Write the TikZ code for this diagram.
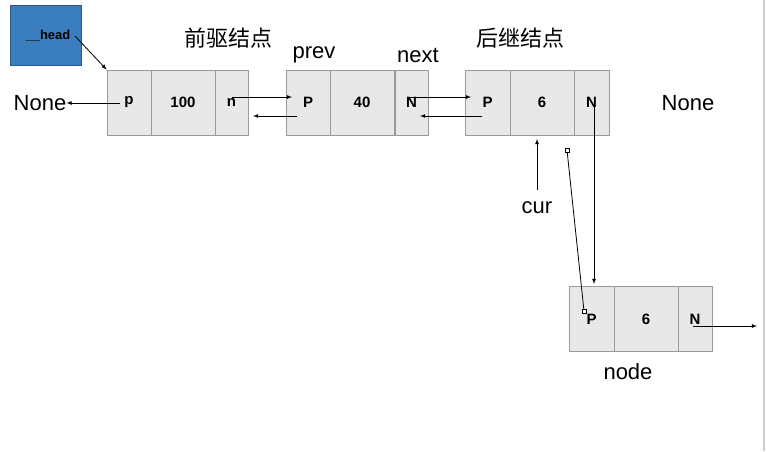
\documentclass[tikz,border=0pt]{standalone}
\usepackage{fontspec}
\setmainfont{Liberation Sans}
\newfontfamily\cjk{Noto Sans CJK SC}
\definecolor{hblue}{HTML}{3A7EC0}
\begin{document}
\begin{tikzpicture}[x=1pt,y=-1pt,
  cell/.style={draw=gray!80,fill=gray!18,line width=0.8pt,minimum height=65pt,inner sep=0pt,font=\bfseries\fontsize{15}{15}\selectfont},
  lbl/.style={font=\fontsize{22}{22}\selectfont,inner sep=0pt},
  ar/.style={-latex,line width=0.8pt}]
\useasboundingbox (0,0) rectangle (766,451);
\fill[white] (0,0) rectangle (766,451);
\draw[gray!40,line width=2pt] (764,0) -- (764,451);
\node[fill=hblue,draw=hblue!70!black,minimum width=71pt,minimum height=60pt,anchor=north west,inner sep=0pt] (hb) at (10,5) {};
\node[font=\bfseries\fontsize{13}{13}\selectfont,inner sep=0pt] (head) at (48,36) {\_\_head};
% node 1
\node[cell,minimum width=44pt] (a1) at (129,102.5) {p};
\node[cell,minimum width=64pt] (a2) at (183,102.5) {100};
\node[cell,minimum width=33pt] (a3) at (231.5,102.5) {n};
% node 2
\node[cell,minimum width=44pt] (b1) at (308,102.5) {P};
\node[cell,minimum width=64pt] (b2) at (362,102.5) {40};
\node[cell,minimum width=33pt] (b3) at (411.5,102.5) {N};
% node 3
\node[cell,minimum width=45pt] (c1) at (487.5,102.5) {P};
\node[cell,minimum width=64pt] (c2) at (542,102.5) {6};
\node[cell,minimum width=35pt] (c3) at (591.5,102.5) {N};
% node 4
\node[cell,minimum width=45pt] (d1) at (591.5,319) {P};
\node[cell,minimum width=64pt] (d2) at (646,319) {6};
\node[cell,minimum width=34pt] (d3) at (695,319) {N};
% labels
\node[lbl,font=\cjk\fontsize{22}{22}\selectfont] (q) at (228,38) {前驱结点};
\node[lbl,font=\cjk\fontsize{22}{22}\selectfont] (h) at (520,38) {后继结点};
\node[lbl] (prev) at (314,55) {prev};
\node[lbl] (next) at (418,55) {next};
\node[lbl] (nl) at (40,103) {None};
\node[lbl] (nr) at (688,103) {None};
\node[lbl] (cur) at (537,208) {cur};
\node[lbl] (nd) at (628,372) {node};
\coordinate (hs) at (75,36);
\coordinate (ps) at (584,311);
\coordinate (pe) at (567,150);
\coordinate (ne) at (757,326);
\coordinate (s0) at (120,103);
\coordinate (s1) at (232,97); \coordinate (e1) at (292,97);
\coordinate (s2) at (297,116); \coordinate (e2) at (253,116);
\coordinate (s3) at (410,97); \coordinate (e3) at (471,97);
\coordinate (s4) at (482,116); \coordinate (e4) at (420,116);
\coordinate (s5) at (594,104); \coordinate (e5) at (594,284);
\coordinate (s6) at (693,326);
\coordinate (cs) at (537,190); \coordinate (ce) at (537,139);
% arrows
\draw[ar] (hs) -- (a1.north west);
\draw[ar] (s0) -- (nl.east);
\draw[ar] (s1) -- (e1);
\draw[ar] (s2) -- (e2);
\draw[ar] (s3) -- (e3);
\draw[ar] (s4) -- (e4);
\draw[ar] (s5) -- (e5);
\draw[ar] (cs) -- (ce);
\draw[line width=0.8pt] (ps) -- (pe);
\draw[fill=white,line width=0.5pt] (ps) ++(-2,-2) rectangle ++(4,4);
\draw[fill=white,line width=0.5pt] (pe) ++(-2,-2) rectangle ++(4,4);
\draw[ar] (s6) -- (ne);
\end{tikzpicture}
\end{document}
